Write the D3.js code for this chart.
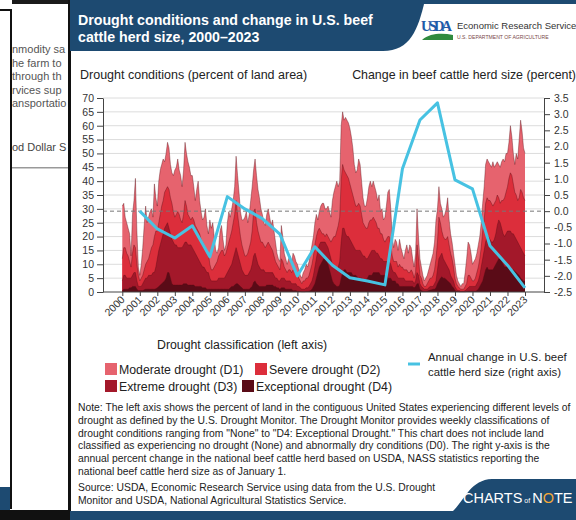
<!DOCTYPE html>
<html><head><meta charset="utf-8">
<script src="https://cdn.jsdelivr.net/npm/d3@7"></script>
<style>
body{margin:0;background:#fff;}
svg{display:block;font-family:"Liberation Sans",Arial,sans-serif;}
</style></head><body>
<svg id="c" width="576" height="520"></svg>
<script>
// ---------- DATA ----------
const yearTicks = d3.range(2000, 2024);
const leftTicks = [0,5,10,15,20,25,30,35,40,45,50,55,60,65,70];
const rightTicks = [-2.5,-2.0,-1.5,-1.0,-0.5,0.0,0.5,1.0,1.5,2.0,2.5,3.0,3.5];
const startYear = 2000; // monthly values, Jan 2000 ... Jan 2023

// D1-D4 (percent of land area, cumulative: Moderate drought and worse)
const d1Plus = [
 31,32,27,25,23,21,13,28,33,41,22,9,
 6,10,16,24,31,25,27,29,30,27,39,34,
 31,40,44,46,48,47,50,54,52,46,43,42,
 44,45,48,44,42,38,44,54,50,47,45,42,
 42,38,33,37,40,33,29,26,27,30,24,21,
 26,23,25,20,15,14,16,22,24,19,15,17,
 25,29,27,30,33,38,49,42,36,29,26,26,
 27,29,25,28,33,38,44,48,42,37,34,30,
 28,25,24,28,30,27,24,26,22,18,14,12,
 11,24,20,14,12,10,12,13,10,14,13,11,
 10,8,6,5,7,8,10,9,11,14,17,20,
 25,28,26,29,31,32,32,30,30,31,29,27,
 33,36,38,40,38,40,60,65,62,63,62,61,
 59,56,52,46,43,44,48,46,40,34,31,31,
 34,38,40,38,40,38,36,33,35,29,30,26,
 27,31,36,37,30,20,16,19,18,15,19,16,
 14,12,15,17,14,17,16,12,9,14,30,20,
 12,9,6,4,5,6,8,10,12,14,18,26,
 30,38,32,30,27,28,30,34,26,21,18,14,
 10,6,4,3,2,3,3,7,12,18,17,14,
 10,11,12,14,17,20,25,32,38,46,48,47,
 46,45,47,45,46,47,46,45,47,48,47,50,
 50,54,60,56,50,46,50,48,55,62,58,52,
 50];
// D2-D4 (Severe drought and worse)
const d2Plus = [
 12,16,16,14,13,11,9,14,17,16,10,6,
 4,5,6,8,10,11,12,14,16,17,20,22,
 22,25,28,31,33,36,37,38,37,34,32,29,
 27,28,29,28,26,25,28,33,31,28,27,26,
 27,26,24,23,22,21,19,18,17,16,15,14,
 10,8,8,9,10,11,13,14,15,15,13,14,
 16,18,20,22,25,28,33,28,24,20,17,15,
 13,13,14,16,18,22,29,30,25,22,20,18,
 18,17,16,17,18,17,16,15,13,11,10,9,
 8,12,11,9,8,7,8,8,7,8,8,7,
 6,5,4,3,4,4,5,5,6,8,10,13,
 17,20,22,23,22,21,21,20,21,20,19,18,
 19,20,20,22,24,27,40,46,44,43,42,41,
 39,37,35,33,31,31,32,31,28,25,24,23,
 23,25,26,26,27,26,25,23,23,21,21,19,
 18,19,20,20,17,13,11,11,11,9,10,9,
 9,8,8,8,7,7,8,7,5,7,17,12,
 6,5,3,2,2,3,4,5,5,6,8,12,
 18,27,25,22,20,19,19,20,17,14,12,9,
 5,3,2,1.5,1,1,1,2,3,6,6,5,
 4,4,5,7,9,12,16,22,26,32,34,33,
 33,32,31,32,33,35,34,32,33,33,34,36,
 38,41,43,42,39,36,35,33,34,37,36,34,
 33];
// D3-D4 (Extreme drought and worse)
const d3Plus = [
 4,6,6,5,5,5,5,6,7,7,4,2,
 2,2,3,4,5,5,6,6,6,7,7,9,
 12,15,17,19,21,23,24,25,23,21,19,18,
 17,17,16,16,16,16,17,18,18,17,17,17,
 16,15,14,13,12,11,10,9,9,8,7,7,
 5,4,4,4,4,4,5,5,5,5,5,6,
 7,8,9,10,12,14,16,14,12,10,8,7,
 6,6,6,7,8,10,13,14,12,10,9,8,
 8,8,7,7,7,7,7,7,6,5,5,4,
 4,5,5,5,4,4,4,4,3,3,3,3,
 2,2,1.5,1,1,1,1.5,1.5,2,3,4,6,
 9,12,15,17,18,18,18,18,17,16,14,12,
 10,9,8,8,9,11,18,23,23,21,20,20,
 19,18,17,16,15,15,15,15,14,13,13,12,
 12,13,14,15,15,15,14,14,13,12,12,11,
 11,11,11,11,10,8,7,7,6,5,5,5,
 5,5,4,4,4,4,4,4,3,4,7,6,
 3,2,1.5,1,1,1,1.5,2,2,2,3,4,
 8,12,13,14,12,11,10,9,8,6,5,4,
 2,1,0.5,0.5,0.3,0.3,0.3,0.5,1,1.5,2,2,
 2,2,2,3,4,6,9,12,15,18,20,20,
 19,18,18,19,21,24,26,25,23,21,20,21,
 22,22,22,21,21,20,19,18,17,16,15,14,
 13];
// D4 (Exceptional drought)
const d4 = [
 0.5,1,1,1,1,1.5,1.5,2,2,2,1,0.5,
 0.5,0.5,0.5,0.8,1,1,1,1,1,1,1,1.2,
 1.5,2,2.5,3,3.5,4,5,7,7,5,3,2.5,
 2.5,2.5,2.5,2.5,2.5,2.5,3,3,3,2.5,2.5,2.5,
 2.5,2.5,2,2,2,2,2,1.5,1.5,1.5,1,1,
 1,1,1,1,1,1,1,1,1,1,1,1,
 1,1,1.5,2,2,2.5,3,3,2.5,2,1.5,1,
 1,1,1,1,1.5,2,3.5,4,3,2.5,2,2,
 2,2,2,2.5,2.5,2.5,2.5,2.5,2,2,1.5,1.5,
 1,1.5,1.5,1.5,1,1,1,1,1,0.5,0.5,0.5,
 0.3,0.3,0.2,0.1,0.1,0.1,0.2,0.2,0.3,0.5,1,2,
 3,5,7,9,10,11,12,12,11,10,8,6,
 4,3,2.5,2,2,2.5,5,7,8,8,7,7,
 7,7,6,6,6,5.5,5,5,5,4.5,4.5,4.5,
 5,6,6,6,7,7,7,7,7,6,6,6,
 6,6,5,5,5,4,4,4,3,3,2,2,
 2,2,2,2,2,2,2,2,1.5,2,3,3,
 1,0.5,0.3,0.2,0.2,0.3,0.5,0.7,0.8,1,1,1.5,
 3,4,5,5.5,5,5,4.5,4,3.5,3,2,1.5,
 0.5,0.3,0.2,0.1,0.1,0.1,0.1,0.1,0.2,0.3,0.3,0.3,
 0.3,0.3,0.3,0.5,1,2,3,4,6,8,9,8,
 8,8,8,9,10,11,12,12,11,10,9,9,
 9,9,8.5,8,8,7.5,7,6.5,6,5,4.5,4,
 4];

// Annual percent change in U.S. beef cattle herd size (right axis)
const herdYears = d3.range(2001, 2024);
const herdChange = [0.0,-0.55,-0.83,-0.45,-1.41,0.45,0.07,-0.23,-0.71,-2.0,-1.1,-1.67,
                    -2.06,-2.16,-2.28,1.31,2.82,3.35,0.97,0.69,-1.07,-1.67,-2.37];

const layerNames = ["Moderate drought (D1)","Severe drought (D2)","Extreme drought (D3)","Exceptional drought (D4)"];
const layerColors = ["#e6636e","#dc2e3b","#a3182a","#5a0b17"];
const lineColor = "#47c2e2";
const navy = "#1d4a71";

// ---------- DRAW ----------
const svg = d3.select("#c");
const x = d3.scaleLinear().domain([2000,2023]).range([122.3,525]);
const yL = d3.scaleLinear().domain([0,70]).range([292,98]);
const yR = d3.scaleLinear().domain([-2.5,3.5]).range([292,98]);
const plotL = 103, plotR = 544;

// background page (left)
const bg = svg.append("g");
bg.append("rect").attr("x",0).attr("y",0).attr("width",576).attr("height",520).attr("fill","#fff");
bg.append("rect").attr("x",0).attr("y",9).attr("width",12).attr("height",2).attr("fill","#111");
bg.append("rect").attr("x",10).attr("y",9).attr("width",2).attr("height",500).attr("fill","#111");
bg.append("rect").attr("x",12).attr("y",0).attr("width",58).attr("height",4).attr("fill","#1a1a1a");
bg.append("rect").attr("x",0).attr("y",487).attr("width",10).attr("height",23).attr("fill",navy);
bg.append("rect").attr("x",0).attr("y",510).attr("width",70).attr("height",10).attr("fill","#111");
const bgLines = [["nmodity sa",53],["he farm to",67],["through th",80],["rvices sup",94],["ansportatio",107]];
bg.selectAll("text.bgl").data(bgLines).join("text").attr("class","bgl")
  .attr("x",12).attr("y",d=>d[1]).attr("font-size",11).attr("fill","#555").text(d=>d[0]);
bg.append("text").attr("x",12).attr("y",151).attr("font-size",11).attr("fill","#444").text("od Dollar S");
bg.append("rect").attr("x",12).attr("y",167).attr("width",58).attr("height",1.5).attr("fill","#999");

// card
svg.append("rect").attr("x",70).attr("y",0).attr("width",506).attr("height",520).attr("fill","#fff");
svg.append("rect").attr("x",68).attr("y",0).attr("width",3).attr("height",520).attr("fill","#111");
svg.append("rect").attr("x",70).attr("y",0).attr("width",506).attr("height",4).attr("fill",navy);
svg.append("path").attr("d","M70,0 H425 C418,30 410,51 383,51 H70 Z").attr("fill",navy);
svg.append("text").attr("x",78).attr("y",25).attr("fill","#fff").attr("font-size",14.2).attr("font-weight","bold")
  .text("Drought conditions and change in U.S. beef");
svg.append("text").attr("x",78).attr("y",42).attr("fill","#fff").attr("font-size",14.2).attr("font-weight","bold")
  .text("cattle herd size, 2000–2023");
// USDA logo
svg.append("text").attr("x",421).attr("y",31).attr("fill","#1f5ba8").attr("font-size",14.5)
  .attr("font-family","'Liberation Serif',serif").attr("font-weight","bold").attr("textLength",31).text("USDA");
svg.append("path").attr("d","M422,40 C430,33 442,33 453,35 L453,40 Z").attr("fill","#2f8a3e");
svg.append("text").attr("x",457).attr("y",29).attr("fill","#333").attr("font-size",9.5).text("Economic Research Service");
svg.append("text").attr("x",457).attr("y",39).attr("fill","#7a4848").attr("font-size",5.1).text("U.S. DEPARTMENT OF AGRICULTURE");

// axis titles
svg.append("text").attr("x",80).attr("y",79).attr("fill","#222").attr("font-size",12.5)
  .text("Drought conditions (percent of land area)");
svg.append("text").attr("x",576).attr("y",79).attr("text-anchor","end").attr("fill","#222").attr("font-size",12.4)
  .text("Change in beef cattle herd size (percent)");

// gridlines
svg.append("g").selectAll("line").data(leftTicks.slice(1)).join("line")
  .attr("x1",plotL).attr("x2",plotR).attr("y1",d=>yL(d)).attr("y2",d=>yL(d))
  .attr("stroke","#dcdcdc").attr("stroke-width",1);

// drought layers
const series = [d1Plus,d2Plus,d3Plus,d4];
const tx = (d,i)=> x(startYear + i/12);
const area = d3.area().x(tx).y0(yL(0)).y1(d=>yL(d));
const topLine = d3.line().x(tx).y(d=>yL(d));
series.forEach((s,k)=>{
  svg.append("path").attr("d",area(s)).attr("fill",layerColors[k]);
  svg.append("path").attr("d",topLine(s)).attr("fill","none").attr("stroke","#5a0c16").attr("stroke-opacity",0.55).attr("stroke-width",0.7);
});

// zero line of right axis (dashed)
svg.append("line").attr("x1",plotL).attr("x2",plotR).attr("y1",yR(0)).attr("y2",yR(0))
  .attr("stroke","#777").attr("stroke-width",1).attr("stroke-dasharray","4,3");

// herd line
const hl = d3.line().x((d,i)=>x(herdYears[i])).y(d=>yR(d));
svg.append("path").attr("d",hl(herdChange)).attr("fill","none").attr("stroke",lineColor)
  .attr("stroke-width",3).attr("stroke-linejoin","round");

// axes
const axisCol = "#444";
const gL = svg.append("g").attr("transform",`translate(${plotL},0)`)
  .call(d3.axisLeft(yL).tickValues(leftTicks).tickSize(6).tickSizeOuter(0).tickPadding(3).tickFormat(d3.format("d")));
const gR = svg.append("g").attr("transform",`translate(${plotR},0)`)
  .call(d3.axisRight(yR).tickValues(rightTicks).tickSize(6).tickSizeOuter(0).tickPadding(4)
  .tickFormat(d=>d3.format(".1f")(d).replace("−","-")));
[gL,gR].forEach(g=>{
  g.selectAll("text").attr("font-size",10.5).attr("fill","#333").attr("font-family","'Liberation Sans',Arial,sans-serif");
  g.selectAll("line,path").attr("stroke",axisCol);
});
svg.append("line").attr("x1",plotL).attr("x2",plotR).attr("y1",yL(0)).attr("y2",yL(0)).attr("stroke",axisCol);
const gB = svg.append("g").attr("transform",`translate(0,${yL(0)})`)
  .call(d3.axisBottom(x).tickValues(yearTicks).tickSize(4).tickSizeOuter(0).tickFormat(d3.format("d")));
gB.select(".domain").remove();
gB.selectAll("line").attr("stroke",axisCol);
gB.selectAll("text").attr("font-size",10.5).attr("fill","#333").attr("font-family","'Liberation Sans',Arial,sans-serif")
  .attr("text-anchor","end").attr("x",-4).attr("y",4).attr("dy","0.35em").attr("transform","rotate(-45)");

// legend
svg.append("text").attr("x",157).attr("y",349).attr("fill","#222").attr("font-size",12.3)
  .text("Drought classification (left axis)");
const legPos = [[105,363],[255,363],[105,380],[242,380]];
layerNames.forEach((n,k)=>{
  const [lx,ly] = legPos[k];
  svg.append("rect").attr("x",lx).attr("y",ly).attr("width",12).attr("height",12).attr("fill",layerColors[k]);
  svg.append("text").attr("x",lx+14).attr("y",ly+11).attr("fill","#222").attr("font-size",12.3).text(n);
});
svg.append("line").attr("x1",408).attr("x2",420).attr("y1",364).attr("y2",364).attr("stroke",lineColor).attr("stroke-width",3);
svg.append("text").attr("x",428).attr("y",361).attr("fill","#222").attr("font-size",11.4).text("Annual change in U.S. beef");
svg.append("text").attr("x",428).attr("y",376).attr("fill","#222").attr("font-size",11.4).text("cattle herd size (right axis)");

// notes
const noteLines = [
 "Note: The left axis shows the percent of land in the contiguous United States experiencing different levels of",
 "drought as defined by the U.S. Drought Monitor. The Drought Monitor provides weekly classifications of",
 "drought conditions ranging from \"None\" to \"D4: Exceptional Drought.\" This chart does not include land",
 "classified as experiencing no drought (None) and abnormally dry conditions (D0). The right y-axis is the",
 "annual percent change in the national beef cattle herd based on USDA, NASS statistics reporting the",
 "national beef cattle herd size as of January 1."];
svg.append("g").selectAll("text").data(noteLines).join("text")
  .attr("x",78).attr("y",(d,i)=>411+i*12.8).attr("font-size",10.35).attr("fill","#222").text(d=>d);
const srcLines = ["Source: USDA, Economic Research Service using data from the U.S. Drought",
 "Monitor and USDA, National Agricultural Statistics Service."];
svg.append("g").selectAll("text").data(srcLines).join("text")
  .attr("x",78).attr("y",(d,i)=>491+i*12.8).attr("font-size",10.35).attr("fill","#222").text(d=>d);

// Charts of Note badge + bottom band
svg.append("path").attr("d","M452,512 C465,500 470,480 492,479 H576 V512 Z").attr("fill",navy);
const cn = svg.append("text").attr("x",463).attr("y",503).attr("fill","#fff").attr("font-size",14.5);
cn.append("tspan").text("CHARTS");
cn.append("tspan").attr("font-size",7).attr("dx",2).text("of");
cn.append("tspan").attr("dx",2).text("N");
cn.append("tspan").attr("fill","#f2a93b").text("O");
cn.append("tspan").text("TE");
svg.append("rect").attr("x",70).attr("y",511).attr("width",506).attr("height",9).attr("fill",navy);
</script>
</body></html>
